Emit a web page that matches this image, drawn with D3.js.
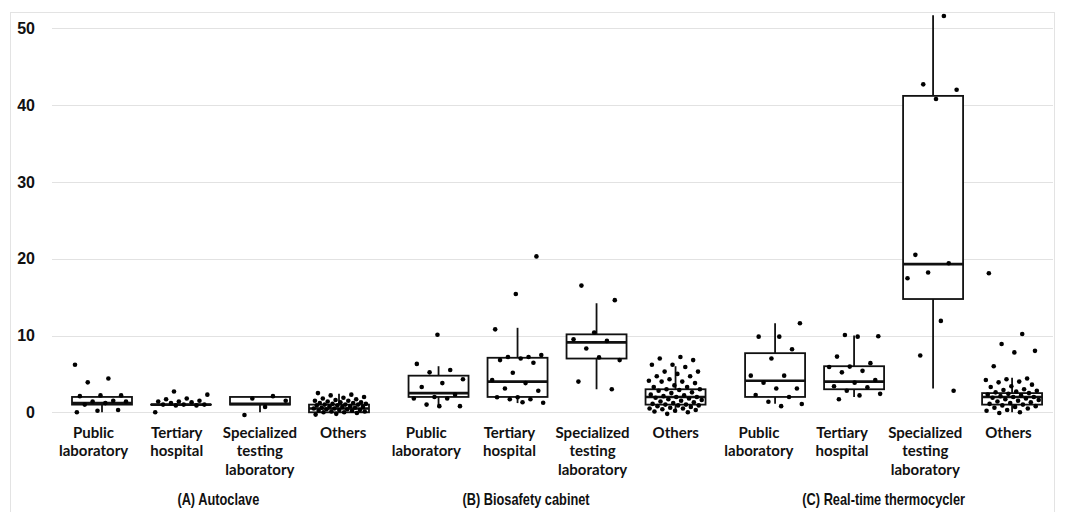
<!DOCTYPE html>
<html><head><meta charset="utf-8">
<script src="https://cdn.jsdelivr.net/npm/d3@7"></script>
<style>body{margin:0;background:#fff;}svg{display:block;}</style>
</head><body><div id="chart"></div>
<script>
// ---------- data ----------
const groups = ["(A) Autoclave", "(B) Biosafety cabinet", "(C) Real-time thermocycler"];
const categories = ["Public laboratory", "Tertiary hospital", "Specialized testing laboratory", "Others"];
const yTicks = [0, 10, 20, 30, 40, 50];

// box statistics per panel/category: [lower whisker, q1, median, q3, upper whisker]
const boxA = [[0,1,1.2,2,2],[1,1,1,1,1],[0,1,1.1,2,2],[0,0,0.5,1,2.4]];
const boxB = [[0.8,2,2.5,4.77,6],[1.2,2,4,7.1,11],[3,7,9.1,10.15,14.2],[0,1,2,3,6]];
const boxC = [[1.1,2,4.1,7.7,11.6],[2,3,4,6,10],[3.1,14.75,19.3,41.2,51.7],[0,1,2,2.5,4.5]];

// observed values (jittered points)
const ptsA = [
  [6.2,4.4,3.9,2.2,2.2,2.1,1.5,1.4,1.4,1.2,1.0,0.3,0.2,0.0],
  [2.7,2.3,1.8,1.7,1.5,1.4,1.4,1.3,1.2,1.0,1.0,1.0,0.9,0.9,0.0],
  [2.1,1.8,1.5,0.7,-0.35],
  [2.5,2.3,2.2,2.0,1.9,1.8,1.7,1.6,1.5,1.5,1.4,1.3,1.3,1.2,1.2,1.1,1.1,1.0,1.0,1.0,0.9,0.9,0.8,0.8,0.7,0.7,0.6,0.6,0.5,0.5,0.4,0.4,0.3,0.3,0.2,0.2,0.1,0.1,0.0,0.0,-0.1,-0.2,-0.3]
];
const ptsB = [
  [10.1,6.3,5.5,5.2,4.3,3.8,3.3,2.3,2.0,1.8,1.8,1.0,0.8,0.8],
  [20.3,15.4,10.8,7.2,7.2,7.45,7.0,6.8,6.45,5.15,4.2,3.8,3.1,2.8,1.95,1.95,1.7,1.7,1.25,1.3],
  [16.5,14.6,10.4,9.5,9.3,8.3,6.8,7.15,4.0,3.0],
  [7.2,7.0,6.8,6.2,6.2,5.9,5.3,5.3,5.0,4.7,4.7,4.3,4.1,4.0,4.0,3.8,3.5,3.3,3.3,3.0,3.0,2.9,2.8,2.6,2.5,2.3,2.2,2.1,2.0,2.0,1.9,1.8,1.7,1.6,1.5,1.4,1.3,1.2,1.1,1.0,1.0,0.9,0.9,0.8,0.7,0.6,0.5,0.5,0.4,0.3,0.2,0.1,0.0,-0.2]
];
const ptsC = [
  [11.6,9.85,9.85,8.2,7.0,4.77,4.77,3.86,3.1,3.1,2.25,2.0,1.38,1.08,0.8],
  [10.06,9.9,9.85,7.25,6.4,5.95,5.9,5.4,5.2,4.2,3.86,3.4,3.25,2.8,2.4,2.2,1.7],
  [51.6,42.7,42.0,40.8,20.5,19.4,18.2,17.45,11.9,7.4,2.8],
  [18.1,10.2,8.9,8.0,7.8,6.0,4.4,4.3,4.2,4.0,3.9,3.6,3.4,3.3,3.0,2.9,2.8,2.7,2.6,2.5,2.4,2.3,2.2,2.1,2.0,2.0,1.9,1.8,1.7,1.6,1.5,1.4,1.3,1.2,1.1,1.0,0.9,0.8,0.7,0.6,0.5,0.3,0.2,0.0,-0.1]
];

// ---------- layout ----------
const W = 1067, H = 512;
const boxes = [boxA, boxB, boxC];
const points = [ptsA, ptsB, ptsC];
const svg = d3.select("#chart").append("svg").attr("width", W).attr("height", H);

const y = d3.scaleLinear().domain([0, 50]).range([412.3, 28.3]);
const nCat = groups.length * categories.length;
const slot = i => i + 0.26 * Math.floor(i / categories.length);
const xBox = d3.scaleLinear().domain([0, 1]).range([102, 181]);
const xLab = d3.scaleBand().domain(d3.range(nCat)).range([52, 1050]);
const groupLabelPos = [1.5, 5.2, 9.5];

// border
svg.append("rect").attr("x", 10.5).attr("y", 12.5).attr("width", 1044).attr("height", 510)
  .attr("fill", "none").attr("stroke", "#e3e3e3").attr("stroke-width", 1);

// gridlines
svg.append("g").selectAll("line").data(yTicks).join("line")
  .attr("x1", 52).attr("x2", 1053)
  .attr("y1", d => Math.round(y(d)) + 0.5).attr("y2", d => Math.round(y(d)) + 0.5)
  .attr("stroke", "#e2e2e2").attr("stroke-width", 1);

// y axis tick labels
svg.append("g").selectAll("text").data(yTicks).join("text")
  .attr("x", 35).attr("y", d => y(d)).attr("dy", "0.36em")
  .attr("text-anchor", "end")
  .style("font-family", "Liberation Sans, Arial, sans-serif").style("font-weight", "bold").style("font-size", "16px")
  .attr("fill", "#111")
  .text(d => d);

// boxes
const boxW = 60;
const flat = [];
boxes.forEach((g, gi) => g.forEach((s, ci) => flat.push({i: gi * 4 + ci, s, pts: points[gi][ci]})));

const bg = svg.append("g");
flat.forEach(d => {
  const cx = xBox(slot(d.i));
  const [lo, q1, med, q3, hi] = d.s;
  const g = bg.append("g");
  g.append("line").attr("x1", cx).attr("x2", cx).attr("y1", y(hi)).attr("y2", y(q3))
    .attr("stroke", "#111").attr("stroke-width", 1.8);
  g.append("line").attr("x1", cx).attr("x2", cx).attr("y1", y(q1)).attr("y2", y(lo))
    .attr("stroke", "#111").attr("stroke-width", 1.8);
  g.append("rect").attr("x", cx - boxW / 2).attr("width", boxW)
    .attr("y", y(q3)).attr("height", Math.max(0.01, y(q1) - y(q3)))
    .attr("fill", "#fff").attr("stroke", "#111").attr("stroke-width", 1.8);
  g.append("line").attr("x1", cx - boxW / 2).attr("x2", cx + boxW / 2).attr("y1", y(med)).attr("y2", y(med))
    .attr("stroke", "#111").attr("stroke-width", 2.6);
});

// points (deterministic jitter)
const pg = svg.append("g");
flat.forEach(d => {
  const cx = xBox(slot(d.i));
  pg.selectAll(null).data(d.pts).join("circle")
    .attr("cx", (v, k) => cx + (((k * 0.6180339 + d.i * 0.37) % 1) - 0.5) * 54)
    .attr("cy", v => y(v))
    .attr("r", 2.3).attr("fill", "#000");
});

// category labels
const lab = svg.append("g").style("font-family", "Lato, sans-serif").style("font-weight", "bold").style("font-size", "15px").attr("fill", "#111");
const wrapCat = {"Public laboratory": ["Public", "laboratory"], "Tertiary hospital": ["Tertiary", "hospital"],
  "Specialized testing laboratory": ["Specialized", "testing", "laboratory"], "Others": ["Others"]};
d3.range(nCat).forEach(i => {
  const name = categories[i % categories.length];
  const cx = xLab(i) + xLab.bandwidth() / 2;
  const t = lab.append("text").attr("x", cx).attr("y", 438).attr("text-anchor", "middle");
  wrapCat[name].forEach((w, k) => t.append("tspan").attr("x", cx).attr("dy", k ? 18.3 : 0).text(w));
});

// group labels (condensed)
const xIdx = d3.scaleLinear().domain([0, 1]).range([xLab(0) + xLab.bandwidth() / 2, xLab(1) + xLab.bandwidth() / 2]);
const sx = 0.8;
svg.append("g").selectAll("text").data(groups).join("text")
  .attr("transform", (d, i) => `translate(${xIdx(groupLabelPos[i])},505) scale(${sx},1)`)
  .attr("text-anchor", "middle")
  .style("font-family", "Liberation Sans, Arial, sans-serif").style("font-size", "16px").style("font-weight", "bold").attr("fill", "#111")
  .text(d => d);
</script></body></html>
